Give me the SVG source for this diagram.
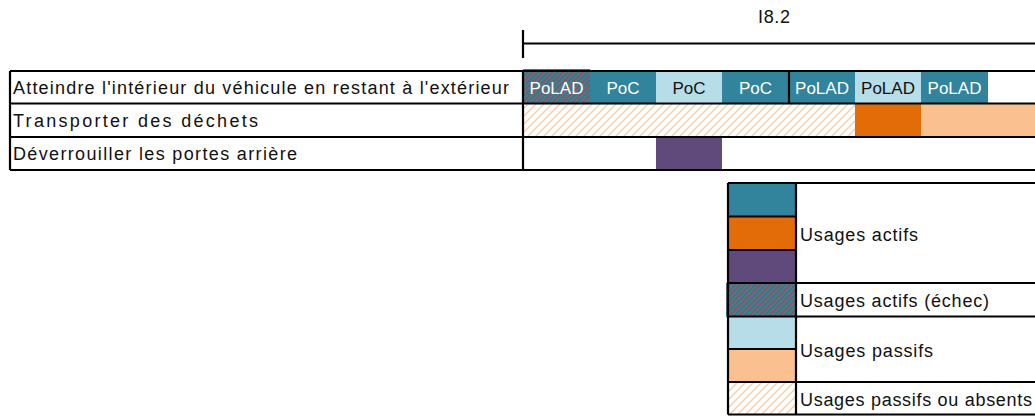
<svg xmlns="http://www.w3.org/2000/svg" width="1035" height="419" viewBox="0 0 1035 419">
<defs>
<pattern id="hatchFail" patternUnits="userSpaceOnUse" width="5" height="5">
<rect width="5" height="5" fill="#31849b"/>
<path d="M-1,6 L6,-1 M-3.5,3.5 L3.5,-3.5 M1.5,8.5 L8.5,1.5" stroke="#b0403e" stroke-width="1.1"/>
</pattern>
<pattern id="hatchPassive" patternUnits="userSpaceOnUse" width="8" height="8">
<rect width="8" height="8" fill="#ffffff"/>
<path d="M-1,9 L9,-1 M-5,5 L5,-5 M3,13 L13,3" stroke="#fbc9a0" stroke-width="1.3"/>
</pattern>
<style>
text{font-family:"Liberation Sans",Arial,sans-serif;font-size:18px;fill:#111}
.cell{font-size:17px}
.w{fill:#ffffff}
.c{text-anchor:middle}
.ln{stroke:#000;stroke-width:2.2;fill:none}
.teal{fill:#31849b}
.lblue{fill:#b7dee8}
.dorange{fill:#e36c09}
.lorange{fill:#fac090}
.purple{fill:#604a7b}
.fail{fill:url(#hatchFail)}
.pass{fill:url(#hatchPassive)}
</style>
</defs>
<rect width="1035" height="419" fill="#ffffff"/>

<g id="axis">
<text x="774" y="23" class="c" textLength="32" lengthAdjust="spacing">I8.2</text>
</g>

<g id="row-labels">
<g id="label-atteindre"><text x="13" y="94" textLength="496" lengthAdjust="spacing">Atteindre l'intérieur du véhicule en restant à l'extérieur</text></g>
<g id="label-transporter"><text x="13" y="127" textLength="245" lengthAdjust="spacing">Transporter des déchets</text></g>
<g id="label-deverrouiller"><text x="13" y="160" textLength="284" lengthAdjust="spacing">Déverrouiller les portes arrière</text></g>
</g>

<g id="row1-cells">
<g id="r1c1"><rect x="523" y="69" width="67" height="35" class="fail"/><text x="556.5" y="94" class="c w cell">PoLAD</text></g>
<g id="r1c2"><rect x="590" y="71" width="66" height="33" class="teal"/><text x="623" y="94" class="c w cell">PoC</text></g>
<g id="r1c3"><rect x="656" y="71" width="66" height="33" class="lblue"/><text x="689" y="94" class="c cell">PoC</text></g>
<g id="r1c4"><rect x="722" y="71" width="67" height="33" class="teal"/><text x="755.5" y="94" class="c w cell">PoC</text></g>
<g id="r1c5"><rect x="789" y="71" width="66" height="33" class="teal"/><text x="822" y="94" class="c w cell">PoLAD</text></g>
<g id="r1c6"><rect x="855" y="71" width="66" height="33" class="lblue"/><text x="888" y="94" class="c cell">PoLAD</text></g>
<g id="r1c7"><rect x="921" y="71" width="67" height="33" class="teal"/><text x="954.5" y="94" class="c w cell">PoLAD</text></g>
</g>

<g id="row2-cells">
<g id="r2-passive"><rect x="523" y="104" width="332" height="33" class="pass"/></g>
<g id="r2-active"><rect x="855" y="104" width="66" height="33" class="dorange"/></g>
<g id="r2-passif"><rect x="921" y="104" width="114" height="33" class="lorange"/></g>
</g>

<g id="row3-cells">
<g id="r3-active"><rect x="656" y="137" width="66" height="33" class="purple"/></g>
</g>

<g id="legend">
<g id="leg-actifs">
<rect x="728" y="183" width="68" height="34" class="teal"/>
<rect x="728" y="217" width="68" height="33" class="dorange"/>
<rect x="728" y="250" width="68" height="33" class="purple"/>
<text x="800" y="241" textLength="118" lengthAdjust="spacing">Usages actifs</text>
</g>
<g id="leg-echec">
<rect x="726" y="283" width="70" height="34" class="fail"/>
<text x="800" y="307" textLength="189" lengthAdjust="spacing">Usages actifs (échec)</text>
</g>
<g id="leg-passifs">
<rect x="728" y="317" width="68" height="32" class="lblue"/>
<rect x="728" y="349" width="68" height="33" class="lorange"/>
<text x="800" y="357" textLength="133" lengthAdjust="spacing">Usages passifs</text>
</g>
<g id="leg-absents">
<rect x="728" y="382" width="68" height="33" class="pass"/>
<text x="800" y="406" textLength="232" lengthAdjust="spacing">Usages passifs ou absents</text>
</g>
</g>

<g id="connectors">
<path class="ln" d="M523,30 V58 M523,43.5 H1035"/>
<path class="ln" d="M10,71 H1035 M10,103.5 H1035 M10,137 H1035 M10,170 H1035 M10,71 V170 M523,71 V170 M789,71 V103.5"/>
<path class="ln" d="M728,183 H1035 M728,283 H1035 M728,316.5 H1035 M728,382 H1035 M728,414.5 H1035 M728,183 V414.5 M796,183 V414.5 M728,216.5 H796 M728,250 H796 M728,349 H796"/>
</g>
</svg>
